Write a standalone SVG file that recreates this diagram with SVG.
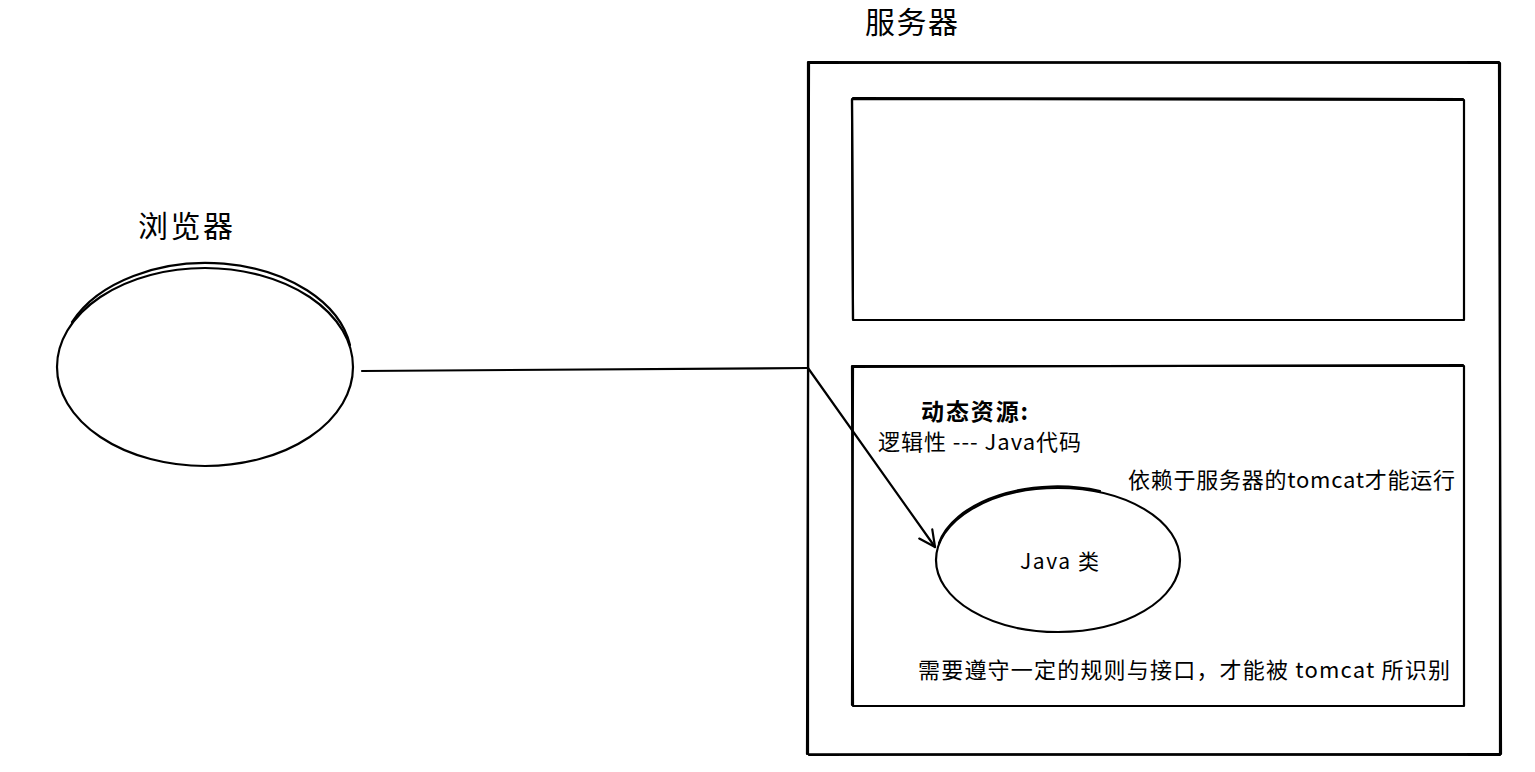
<svg xmlns="http://www.w3.org/2000/svg" width="1535" height="772" viewBox="0 0 1535 772">
<style>
.s{fill:none;stroke:#000;stroke-width:2.2;stroke-linecap:round;stroke-linejoin:round}
.t{font-family:"Noto Sans CJK SC","Noto Sans",sans-serif;fill:#000}
</style>
<defs>
<marker id="ah" markerWidth="20" markerHeight="20" refX="18" refY="10" orient="auto" markerUnits="userSpaceOnUse">
<path d="M2,2 L18,10 L2,18" class="s"/>
</marker>
</defs>
<rect width="1535" height="772" fill="#fff"/>
<g id="server">
<path class="s" d="M808,62 L1500,63 L1500,755 L808,754 Z"/>
<path class="s" d="M809,63 L1499,62 M1499,64 L1501,754 M1499,754 L809,755 M807,754 L809,64"/>
<text class="t" x="865" y="33" font-size="30" textLength="93">服务器</text>
</g>
<g id="static-box">
<path class="s" d="M852,99 L1464,100 L1464,320 L853,320 Z"/>
<path class="s" d="M853,98 L1463,99 M852,100 L853,319"/>
</g>
<g id="dynamic-box">
<path class="s" d="M852,366 L1464,366 L1464,706 L853,706 Z"/>
<path class="s" d="M853,367 L1463,365 M853,367 L852,705"/>
<text class="t" x="921" y="420" font-size="23" font-weight="bold" textLength="107">动态资源:</text>
<text class="t" x="878" y="450" font-size="22" textLength="203">逻辑性 --- Java代码</text>
<text class="t" x="1128" y="488" font-size="22" textLength="327">依赖于服务器的tomcat才能运行</text>
<text class="t" x="918" y="678" font-size="22" textLength="532">需要遵守一定的规则与接口，才能被 tomcat 所识别</text>
</g>
<g id="browser">
<ellipse class="s" cx="205" cy="367" rx="148" ry="99"/>
<path class="s" d="M72,322 A146,98 0 0 1 350,345"/>
<text class="t" x="138" y="237" font-size="30" textLength="95">浏览器</text>
</g>
<g id="java-class">
<ellipse class="s" cx="1058" cy="560" rx="122" ry="72"/>
<path class="s" d="M939,543 A121,71 0 0 1 1100,491"/>
<text class="t" x="1020" y="569" font-size="21" textLength="79">Java 类</text>
</g>
<g id="connectors">
<path class="s" d="M362,371 L808,368"/>
<path class="s" d="M808,368 L935,547" marker-end="url(#ah)"/>
</g>
</svg>
